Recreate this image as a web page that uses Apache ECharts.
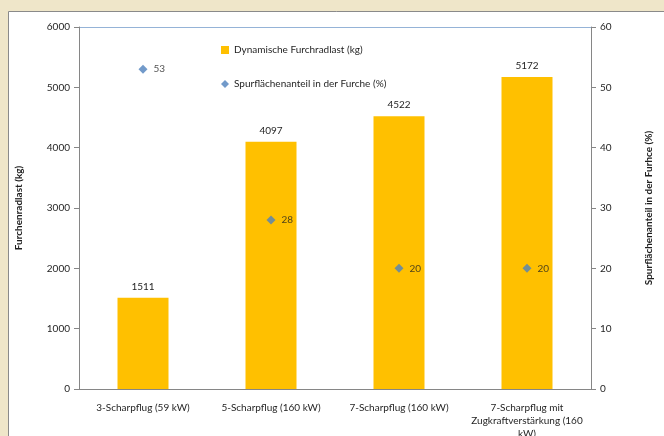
<!DOCTYPE html>
<html>
<head>
<meta charset="utf-8">
<script src="https://cdn.jsdelivr.net/npm/echarts@6/dist/echarts.min.js"></script>
<style>
  html, body { margin: 0; padding: 0; background: #EFE6C9; }
  #chart { width: 664px; height: 436px; }
</style>
</head>
<body>
<div id="chart"></div>
<script>
// Pflugvarianten
const categories = [
  '3-Scharpflug (59 kW)',
  '5-Scharpflug (160 kW)',
  '7-Scharpflug (160 kW)',
  '7-Scharpflug mit\nZugkraftverstärkung (160\nkW)'
];
const furchradlast = [1511, 4097, 4522, 5172];       // kg
const spurflaechenanteil = [53, 28, 20, 20];          // %

const FONT = 'Lato, "Open Sans", sans-serif';
const textColor = '#1f1f1f';
const axisGray = '#868686';

const chart = echarts.init(document.getElementById('chart'));

// nur die oberste Linie (6000) sichtbar, hellblau
const topLineColors = ['transparent', 'transparent', 'transparent', 'transparent',
  'transparent', 'transparent', '#95B3D7'];

const option = {
  animation: false,
  backgroundColor: '#EFE6C9',
  textStyle: { fontFamily: FONT },
  graphic: [{
    type: 'rect',
    shape: { x: 8.5, y: 11.5, width: 700, height: 500 },
    style: { fill: '#fff', stroke: '#8a8a8a', lineWidth: 1 },
    z: -10
  }],
  grid: {
    left: 79, right: 73, top: 27, bottom: 47,
    outerBoundsMode: 'none',
    containLabel: false
  },
  legend: {
    orient: 'vertical',
    left: 216,
    top: 40,
    itemGap: 24,
    itemWidth: 8,
    itemHeight: 8,
    textStyle: { fontSize: 10, color: textColor, fontFamily: FONT },
    data: [
      { name: 'Dynamische Furchradlast (kg)', icon: 'rect' },
      { name: 'Spurflächenanteil in der Furche (%)', icon: 'diamond' }
    ]
  },
  xAxis: {
    type: 'category',
    data: categories,
    axisLine: { lineStyle: { color: axisGray } },
    axisTick: { show: false },
    axisLabel: { color: textColor, fontSize: 10, lineHeight: 13, margin: 12, interval: 0 }
  },
  yAxis: [
    {
      type: 'value',
      min: 0, max: 6000, interval: 1000,
      name: 'Furchenradlast (kg)',
      nameLocation: 'middle',
      nameGap: 55,
      nameTextStyle: { fontSize: 10, fontWeight: 'bold', color: textColor },
      axisLine: { show: true, lineStyle: { color: axisGray } },
      axisTick: { show: true, length: 5, lineStyle: { color: axisGray } },
      axisLabel: { color: textColor, fontSize: 10, margin: 9, formatter: v => String(v) },
      splitLine: { show: true, lineStyle: { color: topLineColors, width: 1 } }
    },
    {
      type: 'value',
      min: 0, max: 60, interval: 10,
      name: 'Spurflächenanteil in der Furhce (%)',
      nameLocation: 'middle',
      nameGap: 53,
      nameRotate: 90,
      nameTextStyle: { fontSize: 10, fontWeight: 'bold', color: textColor },
      axisLine: { show: true, lineStyle: { color: axisGray } },
      axisTick: { show: true, length: 5, lineStyle: { color: axisGray } },
      axisLabel: { color: textColor, fontSize: 10, margin: 9 },
      splitLine: { show: false }
    }
  ],
  series: [
    {
      name: 'Dynamische Furchradlast (kg)',
      type: 'bar',
      data: furchradlast,
      barWidth: 51,
      itemStyle: { color: '#FFC000' },
      label: { show: true, position: 'top', distance: 6, fontSize: 10, color: textColor }
    },
    {
      name: 'Spurflächenanteil in der Furche (%)',
      type: 'scatter',
      yAxisIndex: 1,
      data: spurflaechenanteil,
      symbol: 'diamond',
      symbolSize: 9,
      itemStyle: { color: '#4F81BD' },
      label: { show: true, position: 'right', distance: 6, fontSize: 10, color: textColor }
    }
  ]
};

chart.setOption(option);
</script>
</body>
</html>
